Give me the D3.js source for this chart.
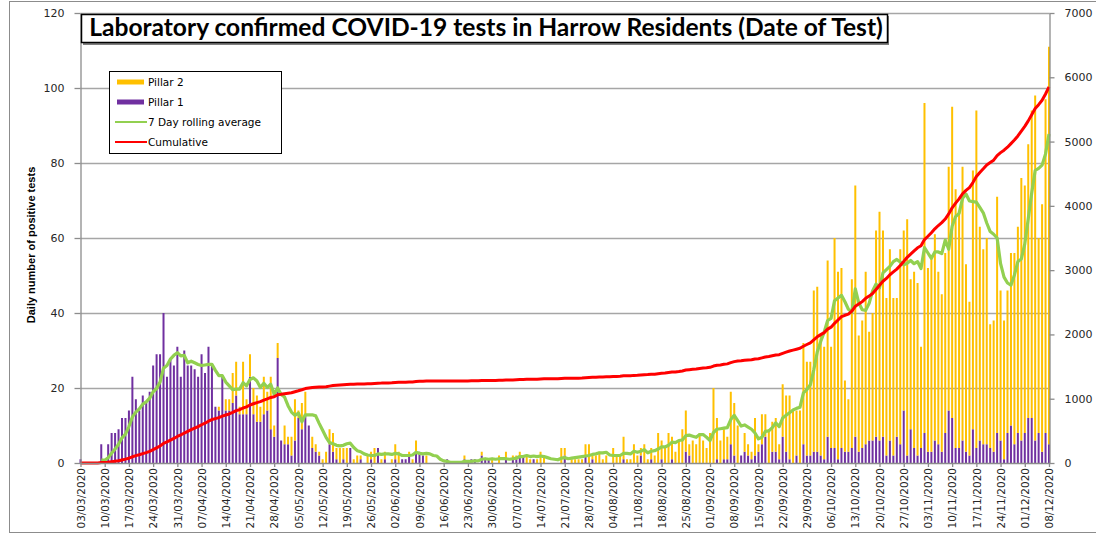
<!DOCTYPE html>
<html><head><meta charset="utf-8">
<script src="https://cdn.jsdelivr.net/npm/d3@7"></script>
<style>
html,body{margin:0;padding:0;background:#fff;}
svg{display:block;}
</style></head><body>
<svg id="chart" width="1096" height="534"></svg>
<script>
const chartTitle = "Laboratory confirmed COVID-19 tests in Harrow Residents (Date of Test)";
const yAxisTitle = "Daily number of positive tests";
const seriesNames = ["Pillar 2", "Pillar 1", "7 Day rolling average", "Cumulative"];
const startDate = "2020-03-03";
const endDate = "2020-12-08";

// Daily positive tests, Pillar 1 (03/03/2020 ... 08/12/2020)
const pillar1 = [
  1,0,0,0,0,0,5,0,5,8,8,9,12,12,14,23,17,14,18,16,19,26,29,29,40,23,28,26,31,23,30,26,26,25,23,29,24,31,
  26,15,14,23,14,14,16,18,13,13,13,23,13,11,11,13,14,9,7,28,6,5,5,2,6,12,9,13,10,4,3,2,0,0,5,
  3,1,0,1,0,4,0,0,1,0,0,1,0,4,0,1,0,0,1,0,1,1,2,0,3,3,2,0,0,0,0,0,0,1,0,0,0,0,1,0,
  1,1,0,2,1,1,0,0,0,0,1,0,1,1,2,2,0,0,1,0,0,0,0,0,0,0,0,2,0,0,0,0,0,2,0,1,0,0,0,0,0,
  0,0,0,1,0,0,0,0,2,0,0,1,0,0,1,0,0,1,0,0,0,3,2,0,0,0,0,0,0,0,1,0,1,1,5,2,0,2,
  3,2,1,2,3,5,7,0,3,3,1,7,3,1,0,2,0,5,2,2,3,3,2,1,7,4,4,1,
  4,3,3,4,7,3,4,5,6,6,7,6,7,2,6,2,7,5,14,2,9,4,2,4,8,3,3,6,5,
  3,8,14,12,4,4,6,3,2,9,4,6,5,5,4,3,8,6,1,8,10,5,8,6,8,12,12,6,8,3,8,5
];
// Daily positive tests, Pillar 2
const pillar2 = [
  0,0,0,0,0,0,0,0,0,0,0,0,0,0,0,0,0,0,0,0,0,0,0,0,0,0,0,0,0,0,0,0,0,0,0,0,0,0,
  0,0,1,0,3,3,8,9,2,14,4,6,7,7,4,10,5,14,3,4,0,5,2,5,11,2,7,6,0,3,2,1,1,3,4,
  5,3,4,3,4,0,1,2,1,0,2,2,4,0,1,2,0,1,4,3,0,0,1,1,3,0,0,2,0,0,0,0,0,0,0,0,0,0,1,0,
  0,0,0,1,0,0,1,0,2,0,2,0,1,1,1,0,2,1,0,1,3,2,0,0,0,0,4,2,0,1,1,1,1,3,5,1,2,3,1,2,0,
  4,2,2,6,1,1,5,2,2,5,1,3,2,8,5,4,8,6,3,6,9,11,3,6,5,8,6,4,8,20,11,6,8,6,14,14,10,0,
  5,3,2,10,2,8,6,9,8,9,4,14,15,17,14,12,14,27,25,25,43,44,32,30,47,27,56,50,
  48,19,14,45,67,31,34,46,29,34,55,61,55,42,51,42,37,52,48,63,40,47,46,27,88,49,52,55,46,
  42,48,65,83,69,63,73,50,41,69,90,57,52,55,33,35,63,40,37,38,46,51,55,70,66,73,82,92,52,66,89,106
];

const leftTicks = [0, 20, 40, 60, 80, 100, 120];
const rightTicks = [0, 1000, 2000, 3000, 4000, 5000, 6000, 7000];
const tickLabels = ["03/03/2020","10/03/2020","17/03/2020","24/03/2020","31/03/2020","07/04/2020",
  "14/04/2020","21/04/2020","28/04/2020","05/05/2020","12/05/2020","19/05/2020","26/05/2020",
  "02/06/2020","09/06/2020","16/06/2020","23/06/2020","30/06/2020","07/07/2020","14/07/2020",
  "21/07/2020","28/07/2020","04/08/2020","11/08/2020","18/08/2020","25/08/2020","01/09/2020",
  "08/09/2020","15/09/2020","22/09/2020","29/09/2020","06/10/2020","13/10/2020","20/10/2020",
  "27/10/2020","03/11/2020","10/11/2020","17/11/2020","24/11/2020","01/12/2020","08/12/2020"];

const colors = {p2: "#FFC000", p1: "#7030A0", avg: "#92D050", cum: "#FF0000", grid: "#a6a6a6", axis: "#8c8c8c", text: "#262626"};

// ---------- derived series (from the daily values) ----------
const parseISO = d3.utcParse("%Y-%m-%d");
const parseLbl = d3.utcParse("%d/%m/%Y");
const days = d3.utcDay.range(parseISO(startDate), d3.utcDay.offset(parseISO(endDate), 1));
const data = days.map((d, i) => ({date: d, p1: pillar1[i] || 0, p2: pillar2[i] || 0}));
data.forEach(d => d.total = d.p1 + d.p2);
const cum = d3.cumsum(data, d => d.total);
data.forEach((d, i) => {
  d.cum = cum[i];
  d.avg = i < 6 ? null : d3.mean(data.slice(i - 6, i + 1), e => e.total);
});

// ---------- layout ----------
const svg = d3.select("#chart");
const L = 80.5, R = 1049.5, T = 13, B = 463;

const x = d3.scaleUtc().domain([days[0], days[days.length - 1]]).range([L, R - 0.5]);
const y = d3.scaleLinear().domain([0, 120]).range([B, T]);
const yR = d3.scaleLinear().domain([0, 7000]).range([B, T]);

// outer chart border
svg.append("rect").attr("x", 9.5).attr("y", 1.5).attr("width", 1100).attr("height", 531)
  .attr("fill", "#fff").attr("stroke", "#8c8c8c").attr("stroke-width", 1);

// gridlines
svg.append("g").selectAll("line").data(leftTicks.filter(v => v > 0)).join("line")
  .attr("x1", L).attr("x2", R).attr("y1", d => Math.round(y(d)) + 0.5).attr("y2", d => Math.round(y(d)) + 0.5)
  .attr("stroke", colors.grid).attr("stroke-width", 1.3);

// bars
const bw = 2;
const bars = svg.append("g");
bars.selectAll(".p1").data(data.filter(d => d.p1 > 0)).join("rect").attr("class", "p1")
  .attr("x", d => x(d.date) - bw / 2).attr("width", bw)
  .attr("y", d => y(d.p1)).attr("height", d => y(0) - y(d.p1))
  .attr("fill", colors.p1);
bars.selectAll(".p2").data(data.filter(d => d.p2 > 0)).join("rect").attr("class", "p2")
  .attr("x", d => x(d.date) - bw / 2).attr("width", bw)
  .attr("y", d => y(d.p1 + d.p2)).attr("height", d => y(d.p1) - y(d.p1 + d.p2))
  .attr("fill", colors.p2);

// lines
svg.append("path").datum(data.filter(d => d.avg !== null))
  .attr("fill", "none").attr("stroke", colors.avg).attr("stroke-width", 3.2).attr("stroke-linejoin", "round")
  .attr("d", d3.line().x(d => x(d.date)).y(d => y(d.avg)));
svg.append("path").datum(data)
  .attr("fill", "none").attr("stroke", colors.cum).attr("stroke-width", 3).attr("stroke-linejoin", "round")
  .attr("d", d3.line().x(d => x(d.date)).y(d => yR(d.cum)));

// axes
function styleAxis(g) {
  g.select(".domain").attr("stroke", colors.axis).attr("stroke-width", 1.3);
  g.selectAll(".tick line").attr("stroke", colors.axis).attr("stroke-width", 1.3);
  g.selectAll("text").attr("fill", colors.text).style("font-family", "'DejaVu Sans', Verdana, sans-serif").style("font-size", "11px");
}
const gL = svg.append("g").attr("transform", `translate(${L},0)`)
  .call(d3.axisLeft(y).tickValues(leftTicks).tickFormat(d3.format("d")).tickSize(6).tickPadding(10).tickSizeOuter(0));
styleAxis(gL);
const gR = svg.append("g").attr("transform", `translate(${R},0)`)
  .call(d3.axisRight(yR).tickValues(rightTicks).tickFormat(d3.format("d")).tickSize(5).tickPadding(10).tickSizeOuter(0));
styleAxis(gR);
const tickDates = tickLabels.map(s => parseLbl(s));
const gB = svg.append("g").attr("transform", `translate(0,${B})`)
  .call(d3.axisBottom(x).tickValues(tickDates).tickFormat((d, i) => tickLabels[i]).tickSize(4).tickSizeOuter(0));
styleAxis(gB);
gB.select(".domain").attr("d", `M${L},0.5H${R}`);
gB.selectAll("text").attr("transform", "rotate(-90)").attr("x", -5).attr("y", 0).attr("dy", "0.35em")
  .style("text-anchor", "end").style("font-size", "10.5px");

// y axis title
svg.append("text").attr("transform", "translate(35,245) rotate(-90)")
  .attr("text-anchor", "middle").attr("fill", "#000")
  .style("font-family", "'Liberation Sans Narrow', 'Liberation Sans', Arial, sans-serif")
  .style("font-size", "11px").style("font-weight", "bold")
  .text(yAxisTitle);

// title box
svg.append("rect").attr("x", 83).attr("y", 16).attr("width", 806).attr("height", 29).attr("fill", "#7f7f7f");
svg.append("rect").attr("x", 81.5).attr("y", 14.5).attr("width", 806).attr("height", 28)
  .attr("fill", "#fff").attr("stroke", "#000").attr("stroke-width", 1.5);
const tt = svg.append("text").attr("x", 486).attr("y", 36).attr("text-anchor", "middle")
  .attr("fill", "#000").style("font-family", "Lato, 'Open Sans', sans-serif").style("font-weight", "bold")
  .style("font-size", "20px").text(chartTitle);
const tw = tt.node().getComputedTextLength();
tt.style("font-size", (20 * 794 / tw).toFixed(2) + "px");

// legend
const lg = svg.append("g");
lg.append("rect").attr("x", 109.5).attr("y", 71.5).attr("width", 172).attr("height", 82)
  .attr("fill", "#fff").attr("stroke", "#000").attr("stroke-width", 1);
const items = [
  {name: seriesNames[0], color: colors.p2, w: 5, x1: 117, x2: 144},
  {name: seriesNames[1], color: colors.p1, w: 5, x1: 117, x2: 144},
  {name: seriesNames[2], color: colors.avg, w: 2, x1: 115, x2: 147},
  {name: seriesNames[3], color: colors.cum, w: 2, x1: 115, x2: 147}
];
items.forEach((it, i) => {
  const cy = 82 + i * 20;
  lg.append("line").attr("x1", it.x1).attr("x2", it.x2).attr("y1", cy).attr("y2", cy)
    .attr("stroke", it.color).attr("stroke-width", it.w);
  lg.append("text").attr("x", 148).attr("y", cy).attr("dy", "0.35em").attr("fill", "#000")
    .style("font-family", "'DejaVu Sans', Verdana, sans-serif").style("font-size", "10.5px").text(it.name);
});
</script>
</body></html>
